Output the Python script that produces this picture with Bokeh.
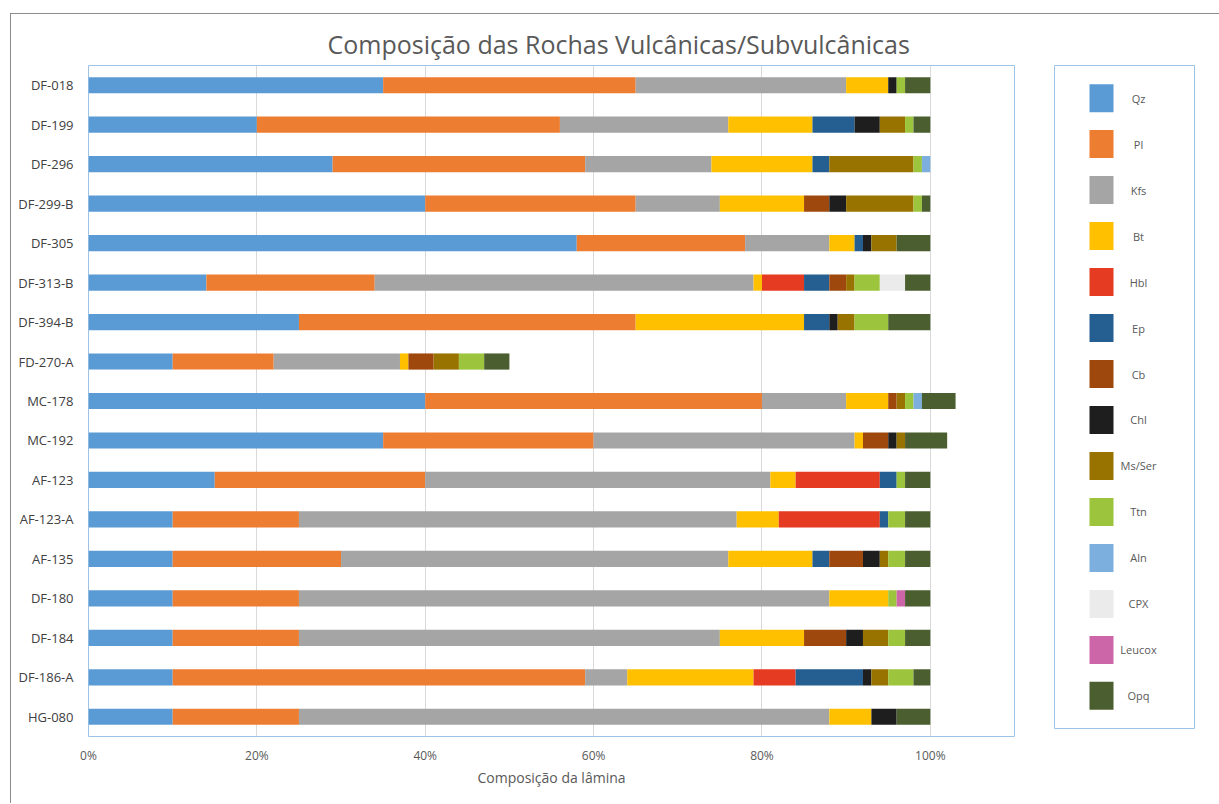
from bokeh.plotting import figure
from bokeh.models import ColumnDataSource, FactorRange, Range1d, FixedTicker, InlineStyleSheet
from bokeh.layouts import row
from bokeh.embed import file_html
from bokeh.resources import INLINE
from bokeh.core.properties import value

title_text = "Composição das Rochas Vulcânicas/Subvulcânicas"
x_title = "Composição da lâmina"

samples = ["DF-018", "DF-199", "DF-296", "DF-299-B", "DF-305", "DF-313-B", "DF-394-B",
           "FD-270-A", "MC-178", "MC-192", "AF-123", "AF-123-A", "AF-135", "DF-180",
           "DF-184", "DF-186-A", "HG-080"]

minerals = ["Qz", "Pl", "Kfs", "Bt", "Hbl", "Ep", "Cb", "Chl", "Ms/Ser", "Ttn",
            "Aln", "CPX", "Leucox", "Opq"]

colors = ["#5B9BD5", "#ED7D31", "#A5A5A5", "#FFC000", "#E63B23", "#255E91", "#9E480E",
          "#1E1E1E", "#997300", "#9CC43C", "#7CAFDD", "#EBEBEB", "#CC66A8", "#4B5E2F"]

# values in % of the thin section, one list per mineral (samples in order above)
qz     = [35, 20, 29, 40, 58, 14, 25, 10, 40, 35, 15, 10, 10, 10, 10, 10, 10]
pl     = [30, 36, 30, 25, 20, 20, 40, 12, 40, 25, 25, 15, 20, 15, 15, 49, 15]
kfs    = [25, 20, 15, 10, 10, 45, 0, 15, 10, 31, 41, 52, 46, 63, 50, 5, 63]
bt     = [5, 10, 12, 10, 3, 1, 20, 1, 5, 1, 3, 5, 10, 7, 10, 15, 5]
hbl    = [0, 0, 0, 0, 0, 5, 0, 0, 0, 0, 10, 12, 0, 0, 0, 5, 0]
ep     = [0, 5, 2, 0, 1, 3, 3, 0, 0, 0, 2, 1, 2, 0, 0, 8, 0]
cb     = [0, 0, 0, 3, 0, 2, 0, 3, 1, 3, 0, 0, 4, 0, 5, 0, 0]
chl    = [1, 3, 0, 2, 1, 0, 1, 0, 0, 1, 0, 0, 2, 0, 2, 1, 3]
ms_ser = [0, 3, 10, 8, 3, 1, 2, 3, 1, 1, 0, 0, 1, 0, 3, 2, 0]
ttn    = [1, 1, 1, 1, 0, 3, 4, 3, 1, 0, 1, 2, 2, 1, 2, 3, 0]
aln    = [0, 0, 1, 0, 0, 0, 0, 0, 1, 0, 0, 0, 0, 0, 0, 0, 0]
cpx    = [0, 0, 0, 0, 0, 3, 0, 0, 0, 0, 0, 0, 0, 0, 0, 0, 0]
leucox = [0, 0, 0, 0, 0, 0, 0, 0, 0, 0, 0, 0, 0, 1, 0, 0, 0]
opq    = [3, 2, 0, 1, 4, 3, 5, 3, 4, 5, 3, 3, 3, 3, 3, 2, 4]

tick_values = [0, 20, 40, 60, 80, 100]
tick_labels = ["0%", "20%", "40%", "60%", "80%", "100%"]

series = [qz, pl, kfs, bt, hbl, ep, cb, chl, ms_ser, ttn, aln, cpx, leucox, opq]
data = {"sample": samples}
for name, vals in zip(minerals, series):
    data[name] = vals
source = ColumnDataSource(data)

FONT = "Open Sans"

p = figure(width=1034, height=794,
           y_range=FactorRange(factors=samples[::-1]),
           x_range=Range1d(0, 110),
           output_backend="svg", toolbar_location=None,
           min_border_left=88, min_border_right=20,
           min_border_top=65, min_border_bottom=58)

p.hbar_stack(minerals, y="sample", height=0.41, color=colors, line_color=None,
             source=source)

p.title.text = title_text
p.title.align = "left"
p.title.offset = 239
p.title.text_font = FONT
p.title.text_font_size = "25px"
p.title.text_font_style = "normal"
p.title.text_color = "#595959"
p.title.standoff = 10

p.outline_line_color = "#9DC3E6"
p.outline_line_width = 1
p.background_fill_color = "white"
p.border_fill_color = "white"

p.xaxis.ticker = FixedTicker(ticks=tick_values)
p.xaxis.major_label_overrides = {v: l for v, l in zip(tick_values, tick_labels)}
p.xaxis.axis_line_color = None
p.xaxis.major_tick_line_color = None
p.xaxis.major_tick_out = 0
p.xaxis.minor_tick_line_color = None
p.xaxis.minor_tick_out = 0
p.xaxis.major_label_text_font = FONT
p.xaxis.major_label_text_font_size = "12px"
p.xaxis.major_label_text_color = "#595959"
p.xaxis.major_label_standoff = 10
p.xaxis.axis_label = x_title
p.xaxis.axis_label_text_font = FONT
p.xaxis.axis_label_text_font_size = "14px"
p.xaxis.axis_label_text_font_style = "normal"
p.xaxis.axis_label_text_color = "#595959"
p.xaxis.axis_label_standoff = 1

p.yaxis.axis_line_color = None
p.yaxis.major_tick_line_color = None
p.yaxis.major_tick_out = 0
p.yaxis.minor_tick_line_color = None
p.yaxis.minor_tick_out = 0
p.yaxis.major_label_text_font = FONT
p.yaxis.major_label_text_font_size = "13px"
p.yaxis.major_label_text_color = "#404040"
p.yaxis.major_label_standoff = 15

p.xgrid.grid_line_color = "#D9D9D9"
p.xgrid.ticker = FixedTicker(ticks=tick_values)
p.ygrid.grid_line_color = None

# legend drawn as its own panel
leg = figure(width=165, height=786,
             x_range=Range1d(0, 140),
             y_range=FactorRange(factors=minerals[::-1], range_padding=0.03),
             x_axis_location=None, y_axis_location=None,
             output_backend="svg", toolbar_location=None,
             min_border_left=20, min_border_right=5,
             min_border_top=65, min_border_bottom=20)
leg.grid.visible = False
leg.outline_line_color = "#9DC3E6"
leg.outline_line_width = 1
leg.border_fill_color = "white"
leg_src = ColumnDataSource(dict(name=minerals, color=colors))
leg.rect(x=47, y="name", width=24, height=28, width_units="screen", height_units="screen",
         fill_color="color", line_color=None, source=leg_src)
leg.text(x=84, y="name", text="name", text_align="center", text_baseline="middle",
         text_font=value(FONT), text_font_size="11px", text_color="#595959", source=leg_src)

frame_css = InlineStyleSheet(css="""
:host { position: relative; }
:host::before {
  content: ''; position: absolute; left: 10px; top: 13px; right: -20px; bottom: -9px;
  border-left: 1px solid #8C8C8C; border-top: 1px solid #8C8C8C;
  pointer-events: none; z-index: 10;
}
""")

layout = row(p, leg, stylesheets=[frame_css])

open("out.html", "w").write(file_html(layout, INLINE))
